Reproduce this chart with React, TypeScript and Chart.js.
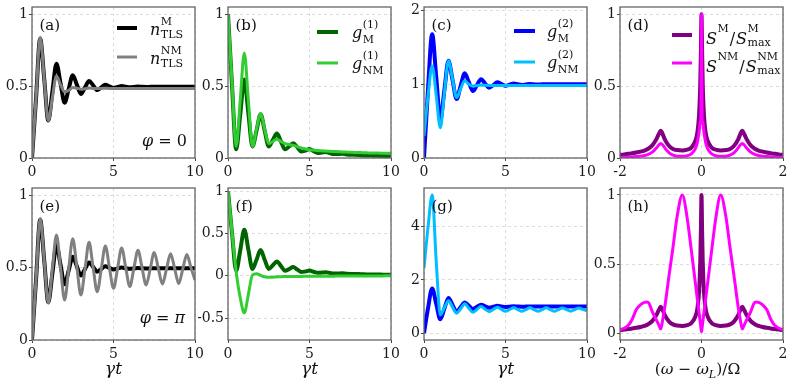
import React, { useEffect, useRef } from 'react';
import { Chart, registerables } from 'chart.js';

Chart.register(...registerables);

const W = 793;
const H = 387;
const SERIF = '"DejaVu Serif", serif';

// ---------- data: time axis (gamma t) ----------
const T = [0, 0.25, 0.5, 0.75, 1, 1.25, 1.5, 1.75, 2, 2.25, 2.5, 2.75, 3, 3.25, 3.5, 3.75, 4, 4.25, 4.5, 4.75, 5, 5.25, 5.5, 5.75, 6, 6.25, 6.5, 6.75, 7, 7.25, 7.5, 7.75, 8, 8.25, 8.5, 8.75, 9, 9.25, 9.5, 9.75, 10];

// n_TLS
const N_M = [0, 0.42, 0.83, 0.55, 0.26, 0.46, 0.655, 0.52, 0.385, 0.48, 0.575, 0.51, 0.445, 0.49, 0.535, 0.505, 0.472, 0.49, 0.51, 0.498, 0.487, 0.494, 0.5, 0.496, 0.492, 0.494, 0.497, 0.495, 0.494, 0.495, 0.496, 0.495, 0.495, 0.495, 0.495, 0.495, 0.495, 0.495, 0.495, 0.495, 0.495];
const N_NM_PHI0 = [0, 0.42, 0.84, 0.55, 0.26, 0.42, 0.57, 0.51, 0.46, 0.47, 0.49, 0.485, 0.478, 0.482, 0.486, 0.484, 0.483, 0.484, 0.485, 0.484, 0.484, 0.484, 0.484, 0.484, 0.484, 0.484, 0.484, 0.484, 0.484, 0.484, 0.484, 0.484, 0.484, 0.484, 0.484, 0.484, 0.484, 0.484, 0.484, 0.484, 0.484];
const N_NM_PHIPI = [0, 0.42, 0.84, 0.55, 0.255, 0.49, 0.725, 0.5, 0.276, 0.49, 0.7, 0.505, 0.31, 0.49, 0.675, 0.5, 0.334, 0.49, 0.65, 0.5, 0.357, 0.495, 0.635, 0.5, 0.369, 0.495, 0.62, 0.5, 0.38, 0.49, 0.605, 0.495, 0.387, 0.49, 0.595, 0.495, 0.39, 0.49, 0.59, 0.5, 0.415];

// g^(1)
const G1_M = [1, 0.5, 0.06, 0.3, 0.545, 0.31, 0.08, 0.19, 0.305, 0.19, 0.08, 0.125, 0.17, 0.115, 0.06, 0.08, 0.103, 0.075, 0.045, 0.052, 0.062, 0.048, 0.035, 0.038, 0.042, 0.034, 0.027, 0.028, 0.029, 0.025, 0.022, 0.022, 0.021, 0.019, 0.017, 0.017, 0.016, 0.015, 0.014, 0.013, 0.013];
const G1_NM_PHI0 = [1, 0.52, 0.08, 0.4, 0.73, 0.4, 0.08, 0.2, 0.31, 0.2, 0.1, 0.115, 0.13, 0.115, 0.1, 0.093, 0.088, 0.079, 0.07, 0.063, 0.058, 0.055, 0.052, 0.05, 0.048, 0.047, 0.045, 0.044, 0.042, 0.041, 0.04, 0.039, 0.038, 0.037, 0.036, 0.035, 0.034, 0.034, 0.033, 0.033, 0.032];
const G1_NM_PHIPI = [1, 0.51, 0.05, -0.26, -0.44, -0.22, 0.01, 0.025, 0.005, -0.012, -0.018, -0.016, -0.012, -0.01, -0.009, -0.008, -0.008, -0.007, -0.007, -0.006, -0.006, -0.005, -0.005, -0.005, -0.004, -0.004, -0.004, -0.003, -0.003, -0.003, -0.003, -0.002, -0.002, -0.002, -0.002, -0.001, -0.001, -0.001, -0.001, 0, 0];

// g^(2)
const G2_M = [0, 0.95, 1.68, 1.1, 0.52, 0.92, 1.32, 1.06, 0.8, 0.98, 1.15, 1.03, 0.91, 0.99, 1.07, 1.01, 0.955, 0.99, 1.03, 1.005, 0.982, 0.995, 1.012, 1, 0.992, 0.998, 1.005, 1, 0.997, 1, 1.002, 1, 1, 1, 1, 1, 1, 1, 1, 1, 1];
const G2_NM_PHI0 = [0.3, 0.85, 1.25, 0.85, 0.41, 0.88, 1.32, 1.07, 0.82, 0.94, 1.05, 1.0, 0.975, 0.985, 0.99, 0.987, 0.985, 0.985, 0.985, 0.985, 0.985, 0.985, 0.985, 0.985, 0.985, 0.985, 0.985, 0.985, 0.985, 0.985, 0.985, 0.985, 0.985, 0.985, 0.985, 0.985, 0.985, 0.985, 0.985, 0.985, 0.985];
const G2_NM_PHIPI = [2.45, 4.0, 5.2, 2.7, 0.68, 0.95, 1.22, 0.98, 0.75, 0.92, 1.1, 0.94, 0.78, 0.89, 1.0, 0.9, 0.81, 0.89, 0.97, 0.89, 0.82, 0.885, 0.955, 0.885, 0.82, 0.885, 0.95, 0.885, 0.82, 0.885, 0.95, 0.885, 0.82, 0.885, 0.945, 0.885, 0.825, 0.885, 0.945, 0.89, 0.84];

// ---------- data: spectra vs (omega - omega_L)/Omega ----------
const OMEGA = [-2, -1.9, -1.8, -1.7, -1.6, -1.5, -1.4, -1.35, -1.3, -1.2, -1.1, -1.05, -1, -0.95, -0.9, -0.8, -0.7, -0.6, -0.47, -0.35, -0.25, -0.15, -0.1, -0.06, -0.03, -0.015, 0, 0.015, 0.03, 0.06, 0.1, 0.15, 0.25, 0.35, 0.47, 0.6, 0.7, 0.8, 0.9, 0.95, 1, 1.05, 1.1, 1.2, 1.3, 1.35, 1.4, 1.5, 1.6, 1.7, 1.8, 1.9, 2];
const S_M = [0.022, 0.025, 0.029, 0.033, 0.038, 0.044, 0.052, 0.058, 0.066, 0.09, 0.135, 0.165, 0.19, 0.165, 0.13, 0.085, 0.063, 0.055, 0.052, 0.058, 0.072, 0.12, 0.18, 0.3, 0.52, 0.74, 1.0, 0.74, 0.52, 0.3, 0.18, 0.12, 0.072, 0.058, 0.052, 0.055, 0.063, 0.085, 0.13, 0.165, 0.19, 0.165, 0.135, 0.09, 0.066, 0.058, 0.052, 0.044, 0.038, 0.033, 0.029, 0.025, 0.022];
const S_NM_PHI0 = [0.004, 0.005, 0.006, 0.008, 0.01, 0.013, 0.018, 0.021, 0.026, 0.042, 0.072, 0.09, 0.1, 0.09, 0.07, 0.037, 0.02, 0.013, 0.012, 0.016, 0.028, 0.065, 0.11, 0.18, 0.25, 0.28, 1.0, 0.28, 0.25, 0.18, 0.11, 0.065, 0.028, 0.016, 0.012, 0.013, 0.02, 0.037, 0.07, 0.09, 0.1, 0.09, 0.072, 0.042, 0.026, 0.021, 0.018, 0.013, 0.01, 0.008, 0.006, 0.005, 0.004];
const S_NM_PHIPI = [0.025, 0.035, 0.055, 0.1, 0.17, 0.205, 0.222, 0.225, 0.22, 0.15, 0.09, 0.06, 0.03, 0.1, 0.19, 0.41, 0.62, 0.84, 1.0, 0.83, 0.6, 0.36, 0.24, 0.15, 0.075, 0.04, 0.01, 0.04, 0.075, 0.15, 0.24, 0.36, 0.6, 0.83, 1.0, 0.84, 0.62, 0.41, 0.19, 0.1, 0.03, 0.06, 0.09, 0.15, 0.22, 0.225, 0.222, 0.205, 0.17, 0.1, 0.055, 0.035, 0.025];

// ---------- tick labels ----------
const TICKS_T = [0, 5, 10];
const TICKS_OMEGA = [-2, 0, 2];
const TICKS_UNIT = [0, 0.5, 1];
const TICKS_G1_PI = [-0.5, 0, 0.5, 1];
const TICKS_G2_PHI0 = [0, 1, 2];
const TICKS_G2_PHIPI = [0, 2, 4];

// ---------- layout / style ----------
const COL_L = [32, 228, 424, 620];
const COL_R = [195, 391, 587, 783];
const ROW_T = [7, 188];
const ROW_B = [158, 340];
const YW = 30;
const XH = 24;
const LW_M = 4;
const LW_NM = 3;
const BASE = 16;
const SCRIPT = 11;

type Part = { s: string; it?: boolean; size?: number; dy?: number };
interface SeriesSpec { ys: number[]; color: string; width: number }
interface LegendSpec { kind: 'n' | 'g' | 'S'; sups: string[]; subs: string[]; x1: number; x2: number; tx: number; ys: number[] }
interface Panel {
  col: number; row: number;
  xs: number[]; xMin: number; xMax: number; xTicks: number[];
  yMin: number; yMax: number; yTicks: number[];
  series: SeriesSpec[];
  tag: string;
  legend?: LegendSpec;
  note?: { parts: Part[]; dx: number; dy: number };
  xTitle?: Part[];
}

const GT: Part[] = [{ s: 'γt', it: true, size: 17 }];
const WT: Part[] = [
  { s: '(', size: 15.5 }, { s: 'ω', it: true, size: 15.5 }, { s: ' − ', size: 15.5 }, { s: 'ω', it: true, size: 15.5 },
  { s: 'L', it: true, size: 11, dy: 3.5 }, { s: ')/Ω', size: 15.5 },
];

const PANELS: Panel[] = [
  {
    col: 0, row: 0, xs: T, xMin: 0, xMax: 10, xTicks: TICKS_T, yMin: 0, yMax: 1.05, yTicks: TICKS_UNIT,
    series: [{ ys: N_M, color: '#000000', width: LW_M }, { ys: N_NM_PHI0, color: '#808080', width: LW_NM }],
    tag: '(a)',
    legend: { kind: 'n', sups: ['M', 'NM'], subs: ['TLS', 'TLS'], x1: -78, x2: -58, tx: -45, ys: [21, 50] },
    note: { parts: [{ s: 'φ', it: true, size: 16 }, { s: ' = 0', size: 16 }], dx: -8, dy: -12 },
  },
  {
    col: 1, row: 0, xs: T, xMin: 0, xMax: 10, xTicks: TICKS_T, yMin: 0, yMax: 1.05, yTicks: TICKS_UNIT,
    series: [{ ys: G1_M, color: '#006400', width: LW_M }, { ys: G1_NM_PHI0, color: '#32cd32', width: LW_NM }],
    tag: '(b)',
    legend: { kind: 'g', sups: ['(1)', '(1)'], subs: ['M', 'NM'], x1: -74, x2: -53, tx: -39, ys: [25, 56] },
  },
  {
    col: 2, row: 0, xs: T, xMin: 0, xMax: 10, xTicks: TICKS_T, yMin: 0, yMax: 2.05, yTicks: TICKS_G2_PHI0,
    series: [{ ys: G2_M, color: '#0000ff', width: LW_M }, { ys: G2_NM_PHI0, color: '#00bfff', width: LW_NM }],
    tag: '(c)',
    legend: { kind: 'g', sups: ['(2)', '(2)'], subs: ['M', 'NM'], x1: -73, x2: -52, tx: -40, ys: [24, 55] },
  },
  {
    col: 3, row: 0, xs: OMEGA, xMin: -2, xMax: 2, xTicks: TICKS_OMEGA, yMin: 0, yMax: 1.05, yTicks: TICKS_UNIT,
    series: [{ ys: S_M, color: '#800080', width: LW_M }, { ys: S_NM_PHI0, color: '#ff00ff', width: LW_NM }],
    tag: '(d)',
    legend: { kind: 'S', sups: ['M', 'NM'], subs: ['max', 'max'], x1: -111, x2: -91, tx: -77, ys: [28, 56] },
  },
  {
    col: 0, row: 1, xs: T, xMin: 0, xMax: 10, xTicks: TICKS_T, yMin: 0, yMax: 1.05, yTicks: TICKS_UNIT,
    series: [{ ys: N_M, color: '#000000', width: LW_M }, { ys: N_NM_PHIPI, color: '#808080', width: LW_NM }],
    tag: '(e)',
    note: { parts: [{ s: 'φ', it: true, size: 16 }, { s: ' = ', size: 16 }, { s: 'π', it: true, size: 16 }], dx: -10, dy: -17 },
    xTitle: GT,
  },
  {
    col: 1, row: 1, xs: T, xMin: 0, xMax: 10, xTicks: TICKS_T, yMin: -0.76, yMax: 1.04, yTicks: TICKS_G1_PI,
    series: [{ ys: G1_M, color: '#006400', width: LW_M }, { ys: G1_NM_PHIPI, color: '#32cd32', width: LW_NM }],
    tag: '(f)', xTitle: GT,
  },
  {
    col: 2, row: 1, xs: T, xMin: 0, xMax: 10, xTicks: TICKS_T, yMin: -0.26, yMax: 5.46, yTicks: TICKS_G2_PHIPI,
    series: [{ ys: G2_M, color: '#0000ff', width: LW_M }, { ys: G2_NM_PHIPI, color: '#00bfff', width: LW_NM }],
    tag: '(g)', xTitle: GT,
  },
  {
    col: 3, row: 1, xs: OMEGA, xMin: -2, xMax: 2, xTicks: TICKS_OMEGA, yMin: -0.05, yMax: 1.05, yTicks: TICKS_UNIT,
    series: [{ ys: S_M, color: '#800080', width: LW_M }, { ys: S_NM_PHIPI, color: '#ff00ff', width: LW_NM }],
    tag: '(h)', xTitle: WT,
  },
];

function setFont(ctx: CanvasRenderingContext2D, size: number, italic = false) {
  ctx.font = `${italic ? 'italic ' : ''}${size}px ${SERIF}`;
}

function txt(ctx: CanvasRenderingContext2D, s: string, x: number, y: number, size: number, italic = false) {
  setFont(ctx, size, italic);
  ctx.textAlign = 'left';
  ctx.fillText(s, x, y);
  return ctx.measureText(s).width;
}

function drawParts(ctx: CanvasRenderingContext2D, parts: Part[], x: number, y: number, align: 'left' | 'center' | 'right') {
  let total = 0;
  for (const p of parts) {
    setFont(ctx, p.size ?? BASE, !!p.it);
    total += ctx.measureText(p.s).width;
  }
  let cx = align === 'left' ? x : align === 'center' ? x - total / 2 : x - total;
  for (const p of parts) {
    cx += txt(ctx, p.s, cx, y + (p.dy ?? 0), p.size ?? BASE, !!p.it);
  }
}

const OFFS: Record<string, number[]> = { n: [7, -2.7, 10.3], g: [6, -4.5, 11.3], S: [9, -3, 11] };

function scripted(ctx: CanvasRenderingContext2D, x: number, y: number, base: string, sup: string, sub: string, off: number[]) {
  const bw = txt(ctx, base, x, y + off[0], BASE, true);
  const sx = x + bw + 0.5;
  const w1 = sup ? txt(ctx, sup, sx, y + off[1], SCRIPT) : 0;
  const w2 = sub ? txt(ctx, sub, sx, y + off[2], SCRIPT) : 0;
  return sx + Math.max(w1, w2);
}

function decor(p: Panel) {
  return {
    id: 'decor',
    afterDatasetsDraw(chart: any) {
      const ctx: CanvasRenderingContext2D = chart.ctx;
      const a = chart.chartArea;
      ctx.save();
      ctx.setLineDash([]);
      ctx.strokeStyle = '#666666';
      ctx.lineWidth = 1.3;
      ctx.strokeRect(a.left, a.top, a.right - a.left, a.bottom - a.top);
      ctx.fillStyle = '#111111';
      ctx.textBaseline = 'alphabetic';
      txt(ctx, p.tag, a.left + 7.5, a.top + 23, 15);
      if (p.legend) {
        const lg = p.legend;
        const off = OFFS[lg.kind];
        lg.ys.forEach((dy, i) => {
          const y = a.top + dy;
          const s = p.series[i];
          ctx.strokeStyle = s.color;
          ctx.lineWidth = s.width;
          ctx.lineCap = 'butt';
          ctx.beginPath();
          ctx.moveTo(a.right + lg.x1, y);
          ctx.lineTo(a.right + lg.x2, y);
          ctx.stroke();
          const x0 = a.right + lg.tx;
          if (lg.kind === 'S') {
            let x = scripted(ctx, x0, y, 'S', lg.sups[i], '', off);
            x += txt(ctx, '/', x + 1, y + off[0], BASE) + 2;
            scripted(ctx, x, y, 'S', lg.sups[i], lg.subs[i], off);
          } else {
            scripted(ctx, x0, y, lg.kind, lg.sups[i], lg.subs[i], off);
          }
        });
      }
      if (p.note) {
        drawParts(ctx, p.note.parts, a.right + p.note.dx, a.bottom + p.note.dy, 'right');
      }
      if (p.xTitle) {
        const cx = (a.left + a.right) / 2 + (p.xTitle === WT ? -4 : 0);
        drawParts(ctx, p.xTitle, cx, 374, 'center');
      }
      ctx.restore();
    },
  };
}

function makeScale(min: number, max: number, ticks: number[], isY: boolean, size: number) {
  return {
    type: 'linear' as const,
    min,
    max,
    bounds: 'data' as const,
    afterBuildTicks: (scale: any) => {
      scale.ticks = ticks.map((v) => ({ value: v }));
    },
    afterFit: (scale: any) => {
      if (isY) {
        scale.width = size;
        scale.paddingTop = 0;
        scale.paddingBottom = 0;
      } else {
        scale.height = size;
        scale.paddingLeft = 0;
        scale.paddingRight = 0;
      }
    },
    grid: {
      color: '#d4d4d4',
      lineWidth: 0.8,
      drawTicks: true,
      tickLength: 3,
      tickColor: '#444444',
      tickWidth: 1,
    },
    border: { display: false, dash: [3, 3] },
    ticks: {
      autoSkip: false,
      maxRotation: 0,
      minRotation: 0,
      padding: isY ? 1 : 3,
      color: '#1a1a1a',
      font: { family: SERIF, size: 14 },
      callback: (v: any) => String(v),
    },
  };
}

export default function App() {
  const refs = useRef<(HTMLCanvasElement | null)[]>([]);

  useEffect(() => {
    const charts: Chart[] = [];
    PANELS.forEach((p, i) => {
      const canvas = refs.current[i];
      if (!canvas) return;
      const L = COL_L[p.col];
      const R = COL_R[p.col];
      const Tp = ROW_T[p.row];
      const B = ROW_B[p.row];
      const n = p.series.length;
      const chart = new Chart(canvas, {
        type: 'line',
        data: {
          datasets: p.series.map((s, k) => ({
            data: p.xs.map((x, j) => ({ x, y: s.ys[j] })),
            borderColor: s.color,
            backgroundColor: s.color,
            borderWidth: s.width,
            pointRadius: 0,
            fill: false,
            cubicInterpolationMode: 'monotone' as const,
            borderJoinStyle: 'round' as const,
            clip: 0,
            order: n - 1 - k,
          })),
        },
        options: {
          responsive: false,
          animation: false,
          devicePixelRatio: 1,
          events: [],
          layout: { padding: { left: L - YW, top: Tp, right: W - R, bottom: H - B - XH } },
          plugins: { legend: { display: false }, tooltip: { enabled: false } },
          scales: {
            x: makeScale(p.xMin, p.xMax, p.xTicks, false, XH),
            y: makeScale(p.yMin, p.yMax, p.yTicks, true, YW),
          },
        } as any,
        plugins: [decor(p)],
      });
      charts.push(chart);
    });
    return () => {
      charts.forEach((c) => c.destroy());
    };
  }, []);

  return (
    <div style={{ position: 'absolute', left: 0, top: 0, width: W, height: H, background: '#ffffff', overflow: 'hidden' }}>
      {PANELS.map((p, i) => (
        <canvas
          key={p.tag}
          ref={(el) => {
            refs.current[i] = el;
          }}
          width={W}
          height={H}
          style={{ position: 'absolute', left: 0, top: 0, width: W, height: H }}
        />
      ))}
    </div>
  );
}
